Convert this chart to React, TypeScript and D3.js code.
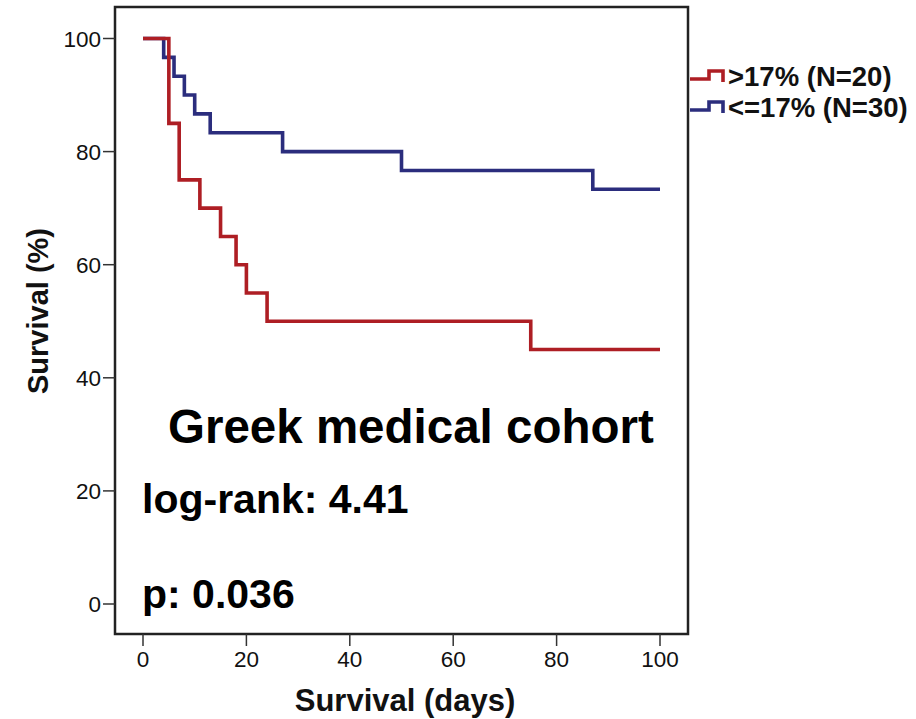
import React from "react";
import * as d3 from "d3";

// Kaplan–Meier step data (days, survival %)
const highTimes = [0, 5, 7, 11, 15, 18, 20, 24, 75, 100];
const highSurv = [100, 85, 75, 70, 65, 60, 55, 50, 45, 45];
const lowTimes = [0, 4, 6, 8, 10, 13, 27, 50, 87, 100];
const lowSurv = [100, 96.67, 93.33, 90, 86.67, 83.33, 80, 76.67, 73.33, 73.33];

const xTicks = [0, 20, 40, 60, 80, 100];
const yTicks = [0, 20, 40, 60, 80, 100];

const legendLabels = [">17% (N=20)", "<=17% (N=30)"];
const seriesColors = ["#AE1E24", "#2B2D7D"];

const FONT = "'Liberation Sans', Arial, Helvetica, sans-serif";

export default function App() {
  const W = 916;
  const H = 719;
  const frame = { left: 115, top: 7, right: 688, bottom: 634 };

  const x = d3.scaleLinear().domain([0, 100]).range([143, 660]);
  const y = d3.scaleLinear().domain([0, 100]).range([604, 38.5]);

  const line = d3
    .line<[number, number]>()
    .x((d) => x(d[0]))
    .y((d) => y(d[1]))
    .curve(d3.curveStepAfter);

  const series = [
    highTimes.map((t, i) => [t, highSurv[i]] as [number, number]),
    lowTimes.map((t, i) => [t, lowSurv[i]] as [number, number]),
  ];

  // legend swatch: small step glyph
  const swatch = (y0: number) =>
    `M690,${y0 + 8} H709 V${y0} H723 V${y0 + 11}`;

  return (
    <svg
      width={W}
      height={H}
      style={{ position: "absolute", left: 0, top: 0, background: "#fff" }}
      fontFamily={FONT}
    >
      <rect width={W} height={H} fill="#fff" />

      {/* curves: draw low group first, high group on top */}
      {[1, 0].map((k) => (
        <path
          key={k}
          d={line(series[k]) || ""}
          fill="none"
          stroke={seriesColors[k]}
          strokeWidth={3.6}
          strokeLinejoin="miter"
          strokeLinecap="butt"
        />
      ))}

      {/* frame */}
      <rect
        x={frame.left}
        y={frame.top}
        width={frame.right - frame.left}
        height={frame.bottom - frame.top}
        fill="none"
        stroke="#222"
        strokeWidth={2.5}
      />

      {/* y axis ticks */}
      {yTicks.map((v) => (
        <g key={"y" + v}>
          <line x1={103} x2={frame.left} y1={y(v)} y2={y(v)} stroke="#333" strokeWidth={1.5} />
          <text x={101} y={y(v) + 8} textAnchor="end" fontSize={22.5} fill="#111">
            {v}
          </text>
        </g>
      ))}

      {/* x axis ticks */}
      {xTicks.map((v) => (
        <g key={"x" + v}>
          <line x1={x(v)} x2={x(v)} y1={frame.bottom} y2={646} stroke="#333" strokeWidth={1.5} />
          <text x={x(v)} y={667} textAnchor="middle" fontSize={22.5} fill="#111">
            {v}
          </text>
        </g>
      ))}

      {/* axis titles */}
      <text x={405} y={711} textAnchor="middle" fontSize={31} fontWeight="bold" fill="#111">
        Survival (days)
      </text>
      <text
        transform={`translate(48,311) rotate(-90)`}
        textAnchor="middle"
        fontSize={29}
        fontWeight="bold"
        fill="#111"
      >
        Survival (%)
      </text>

      {/* annotations */}
      <text x={168} y={443} fontSize={47.5} fontWeight="bold" fill="#000">
        Greek medical cohort
      </text>
      <text x={142} y={513} fontSize={41} fontWeight="bold" fill="#000">
        log-rank: 4.41
      </text>
      <text x={142} y={608} fontSize={41} fontWeight="bold" fill="#000">
        p: 0.036
      </text>

      {/* legend */}
      {legendLabels.map((lab, i) => {
        const y0 = 71 + i * 31;
        return (
          <g key={lab}>
            <path d={swatch(y0)} fill="none" stroke={seriesColors[i]} strokeWidth={3.6} />
            <text x={728} y={y0 + 15} fontSize={27.5} fontWeight="bold" fill="#111">
              {lab}
            </text>
          </g>
        );
      })}
    </svg>
  );
}
